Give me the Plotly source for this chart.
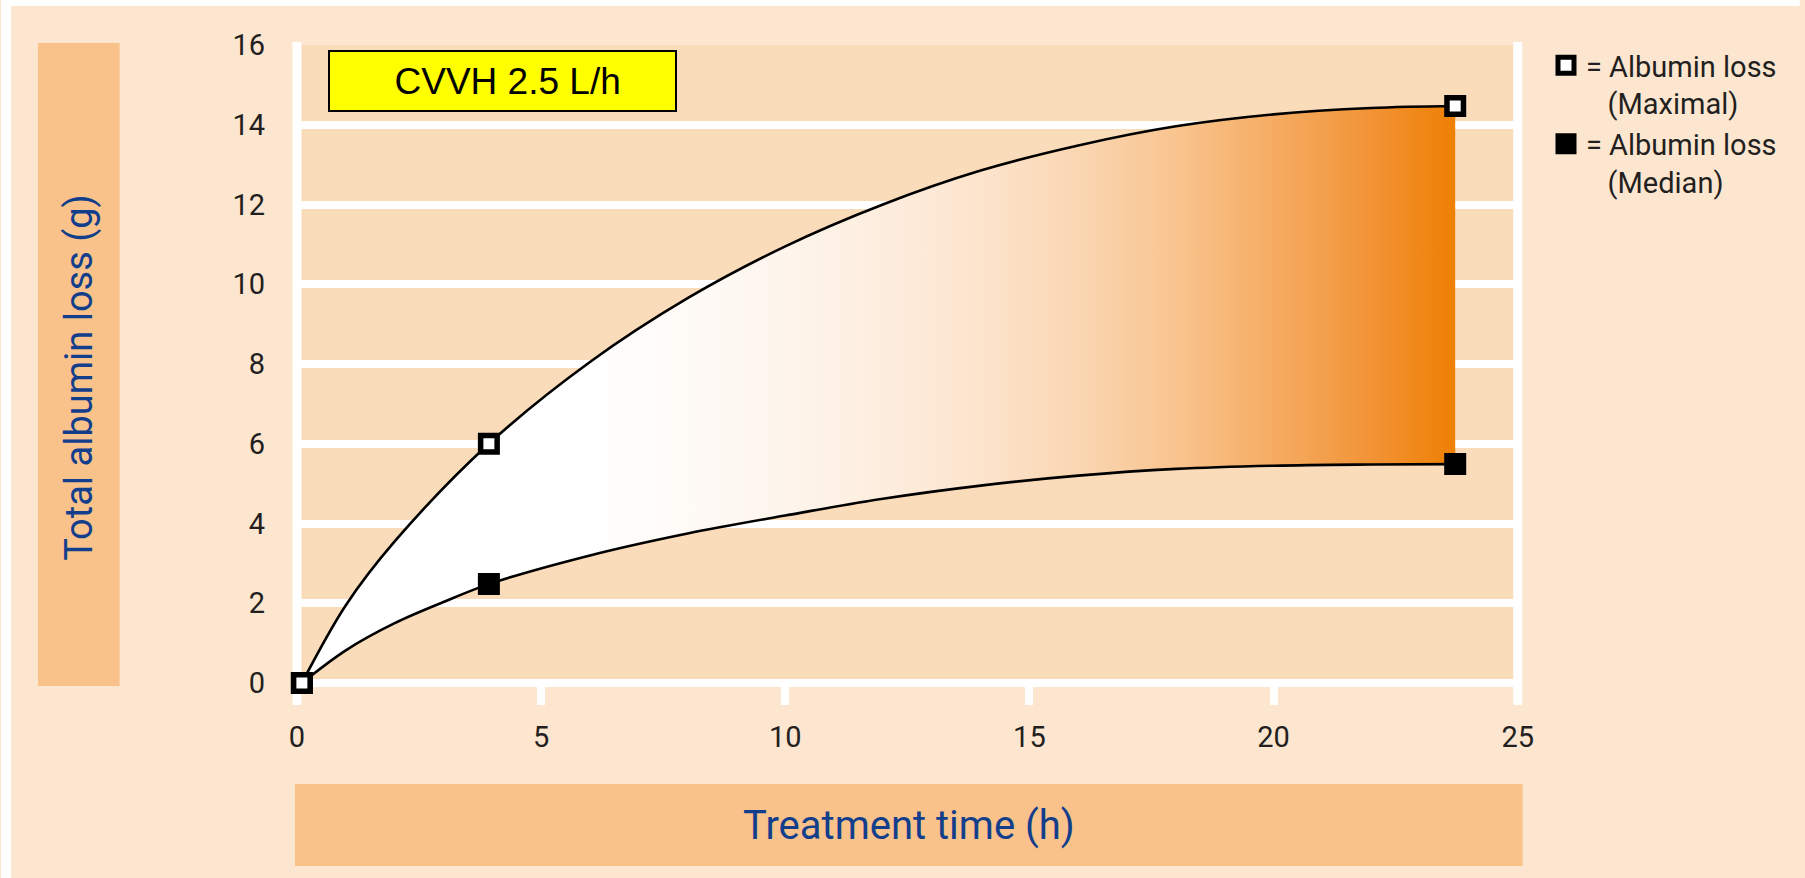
import plotly.graph_objects as go

# ---------------- data ----------------
time_max = [0.1, 1, 2, 3.93, 6, 8, 10, 12, 14, 16, 18, 20, 22, 23.72]
loss_max = [0.0, 1.95, 3.55, 6.0, 8.05, 9.65, 10.95, 12.0, 12.85, 13.48, 13.96, 14.26, 14.42, 14.47]

time_median = [0.1, 1, 2, 3, 3.93, 6, 8, 10, 12, 14, 16, 18, 20, 22, 23.72]
loss_median = [0.0, 0.82, 1.5, 2.03, 2.48, 3.2, 3.75, 4.2, 4.62, 4.95, 5.2, 5.37, 5.45, 5.48, 5.49]

marker_time = [0.1, 3.93, 23.72]
marker_max = [0.0, 6.0, 14.47]
marker_median = [0.0, 2.48, 5.49]

x_ticks = [0, 5, 10, 15, 20, 25]
y_ticks = [0, 2, 4, 6, 8, 10, 12, 14, 16]

# ---------------- layout geometry ----------------
W, H = 1805, 878
L, R, T, B = 297, 283, 45, 195
PW = W - L - R
PH = H - T - B


def px(xp):
    return (xp - L) / PW


def py(yp):
    return (H - B - yp) / PH


PAGE_BG = "#FDE6D0"
BAND = "#FADBBA"
BAR = "#F8C28A"
BLUE = "#123E8C"
TXT = "#231F20"

fig = go.Figure()

fig.add_trace(go.Scatter(
    x=time_median, y=loss_median, mode="lines",
    line=dict(color="black", width=2.6, shape="spline", smoothing=1.0),
    showlegend=False, hoverinfo="skip", cliponaxis=False))

fig.add_trace(go.Scatter(
    x=time_max, y=loss_max, mode="lines", fill="tonexty",
    fillgradient=dict(
        type="horizontal", start=0, stop=23.72,
        colorscale=[[0.0, "#FFFFFF"], [0.25, "#FFFFFF"], [0.38, "#FEF8F2"],
                    [0.506, "#FDEDDE"], [0.59, "#FCE4CC"], [0.675, "#FAD6B1"],
                    [0.76, "#F8C38D"], [0.844, "#F5AB60"], [0.928, "#F19234"],
                    [1.0, "#EE7F00"]]),
    line=dict(color="black", width=2.6, shape="spline", smoothing=1.0),
    showlegend=False, hoverinfo="skip", cliponaxis=False))

fig.add_trace(go.Scatter(
    x=marker_time, y=marker_median, mode="markers",
    name="= Albumin loss<br>\u00a0\u00a0\u00a0(Median)", cliponaxis=False,
    marker=dict(symbol="square", size=16.5, color="black",
                line=dict(color="black", width=5.5))))

fig.add_trace(go.Scatter(
    x=marker_time, y=marker_max, mode="markers",
    name="= Albumin loss<br>\u00a0\u00a0\u00a0(Maximal)", cliponaxis=False,
    marker=dict(symbol="square", size=16.5, color="white",
                line=dict(color="black", width=5.5))))

shapes = [
    # white page edges
    dict(type="rect", xref="paper", yref="paper", x0=px(0), x1=px(10), y0=py(H), y1=py(0),
         fillcolor="white", line=dict(width=0), layer="below"),
    dict(type="rect", xref="paper", yref="paper", x0=px(0), x1=px(W), y0=py(6), y1=py(0),
         fillcolor="white", line=dict(width=0), layer="below"),
    # axis title bars
    dict(type="rect", xref="paper", yref="paper", x0=px(37), x1=px(119), y0=py(686), y1=py(43),
         fillcolor=BAR, line=dict(width=0), layer="below"),
    dict(type="rect", xref="paper", yref="paper", x0=px(295), x1=px(1527), y0=py(866), y1=py(784),
         fillcolor=BAR, line=dict(width=0), layer="below"),
    # white frame verticals
    dict(type="line", xref="paper", yref="paper", x0=0, x1=0, y0=py(704), y1=py(42),
         line=dict(color="white", width=9), layer="below"),
    dict(type="line", xref="paper", yref="paper", x0=1, x1=1, y0=py(704), y1=py(42),
         line=dict(color="white", width=9), layer="below"),
]

annotations = [
    dict(text="\u00a0CVVH 2.5 L/h", xref="paper", yref="paper", x=px(328), y=py(50),
         xanchor="left", yanchor="top", showarrow=False, width=345, height=58,
         bgcolor="#FFFF00", bordercolor="black", borderwidth=2, borderpad=0,
         font=dict(family="Liberation Sans, Arial", size=37, color="black")),
    dict(text="Total albumin loss (g)", xref="paper", yref="paper", x=px(78), y=py(377),
         xanchor="center", yanchor="middle", textangle=-90, showarrow=False,
         font=dict(family="Roboto", size=38, color=BLUE)),
    dict(text="Treatment time (h)", xref="paper", yref="paper", x=px(911), y=py(825),
         xanchor="center", yanchor="middle", showarrow=False,
         font=dict(family="Roboto", size=40, color=BLUE)),
]

fig.update_layout(
    width=W, height=H, autosize=False,
    margin=dict(l=L, r=R, t=T, b=B, pad=0),
    paper_bgcolor=PAGE_BG, plot_bgcolor=BAND,
    shapes=shapes, annotations=annotations,
    showlegend=True,
    legend=dict(xref="container", yref="container", x=1546 / W, y=1 - 40 / H,
                xanchor="left", yanchor="top", valign="top", traceorder="reversed",
                bgcolor="rgba(0,0,0,0)", borderwidth=0,
                font=dict(family="Roboto", size=29, color=TXT)),
    xaxis=dict(range=[0, 25], tickvals=x_ticks, ticktext=[str(v) for v in x_ticks],
               showgrid=False, zeroline=False, showline=False,
               ticks="outside", ticklen=21, tickwidth=8, tickcolor="white",
               ticklabelstandoff=7, layer="below traces",
               tickfont=dict(family="Roboto", size=29, color=TXT)),
    yaxis=dict(range=[0, 16], tickvals=y_ticks, ticktext=[str(v) for v in y_ticks],
               showgrid=True, gridcolor="white", gridwidth=8,
               zeroline=True, zerolinecolor="white", zerolinewidth=8,
               showline=False, ticks="", ticklabelstandoff=31, layer="below traces",
               tickfont=dict(family="Roboto", size=29, color=TXT)),
)

fig.write_html("out.html")
